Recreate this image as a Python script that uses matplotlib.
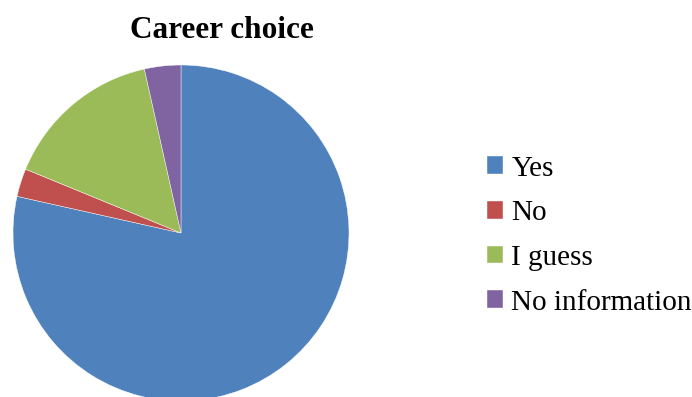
import matplotlib
matplotlib.use("Agg")
import matplotlib.pyplot as plt

labels = ["Yes", "No", "I guess", "No information"]
shares = [78.5, 2.7, 15.3, 3.5]
colors = ["#4F81BD", "#C0504D", "#9BBB59", "#8064A2"]

plt.rcParams["font.family"] = ["Liberation Serif", "DejaVu Serif"]

fig = plt.figure(figsize=(6.92, 3.97), dpi=100)

# pie axes: centre ~ (181, 233) px, radius 168 px
W, H = 692, 397
cx, cy, r = 181, 233, 168
ax = fig.add_axes([(cx - r) / W, (H - cy - r) / H, 2 * r / W, 2 * r / H])
wedges, _ = ax.pie(shares, colors=colors, startangle=90, counterclock=False,
                   radius=1, wedgeprops=dict(edgecolor="white", linewidth=0.3))
ax.set_xlim(-1, 1)
ax.set_ylim(-1, 1)
ax.set_aspect("equal")
ax.axis("off")

fig.text(222 / W, 1 - 30 / H, "Career choice", ha="center", va="center",
         fontsize=22.5, fontweight="bold")

fig.legend(wedges, labels, loc="center left", bbox_to_anchor=(475 / W, 1 - 235.5 / H),
           frameon=False, fontsize=21, handlelength=0.55, handleheight=0.55,
           handletextpad=0.3, labelspacing=0.64, borderaxespad=0)

fig.savefig("out.png", dpi=100)
